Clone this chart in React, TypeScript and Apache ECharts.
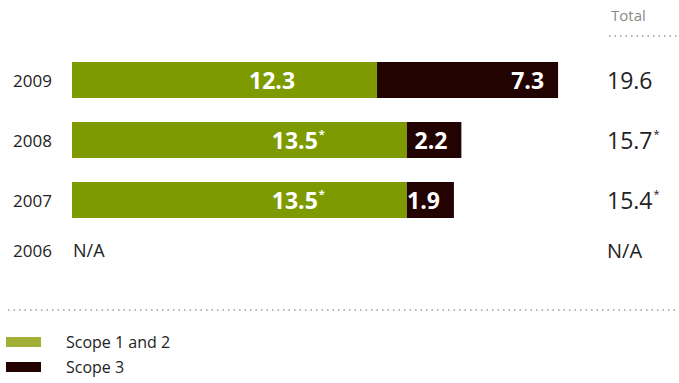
import React, { useEffect, useRef } from "react";
import * as echarts from "echarts";

const years = ["2009", "2008", "2007", "2006"];
const scope12 = [12.3, 13.5, 13.5, null];
const scope12Star = [false, true, true, false];
const scope3 = [7.3, 2.2, 1.9, null];
const totals = ["19.6", "15.7", "15.4", "N/A"];
const totalsStar = [false, true, true, false];
const naLabel = "N/A";

const GREEN = "#7d9b00";
const DARK = "#230202";
const FONT = "'Open Sans', 'Noto Sans', sans-serif";

export default function App() {
  const ref = useRef<HTMLDivElement>(null);
  useEffect(() => {
    const chart = echarts.init(ref.current!, null, { renderer: "svg" });
    const greenData = scope12.map((v, i) =>
      v === null
        ? {
            value: 0,
            label: {
              show: true,
              position: "right",
              distance: 1,
              offset: [0, -10],
              formatter: naLabel,
              color: "#222",
              fontWeight: "normal",
              fontSize: 18,
              fontFamily: FONT,
            },
          }
        : {
            value: v,
            label: {
              formatter: scope12Star[i] ? `{v|${v.toFixed(1)}}{s|*}` : `{v|${v.toFixed(1)}}`,
            },
          }
    );
    const darkData = scope3.map((v) => (v === null ? null : v));
    chart.setOption({
      animation: false,
      textStyle: { fontFamily: FONT },
      grid: { left: 72, top: 50, width: 496, height: 240 },
      xAxis: { type: "value", min: 0, max: 20, show: false },
      yAxis: [
        {
          type: "category",
          data: years,
          inverse: true,
          axisLine: { show: false },
          axisTick: { show: false },
          axisLabel: {
            margin: 20,
            color: "#222",
            fontSize: 17,
            fontFamily: FONT,
            formatter: (val: string, i: number) => (i === 3 ? `{up|${val}}` : val),
            rich: { up: { fontSize: 17, color: "#222", padding: [0, 0, 20, 0], fontFamily: FONT } },
          },
        },
        {
          type: "category",
          data: totals,
          inverse: true,
          position: "right",
          axisLine: { show: false },
          axisTick: { show: false },
          axisLabel: {
            margin: 39,
            align: "left",
            color: "#222",
            fontSize: 23,
            fontFamily: FONT,
            formatter: (val: string, i: number) =>
              i === 3 ? `{up|${val}}` : totalsStar[i] ? `{n|${val}}{s|*}` : `{n|${val}}`,
            rich: {
              n: { fontSize: 23, color: "#222", fontFamily: FONT },
              s: { fontSize: 11, color: "#222", padding: [0, 0, 14, 1], fontFamily: FONT },
              up: { fontSize: 20, color: "#222", padding: [0, 0, 20, 0], fontFamily: FONT },
            },
          },
        },
      ],
      legend: {
        orient: "vertical",
        left: 6,
        top: 332,
        padding: 0,
        itemWidth: 35,
        itemHeight: 10,
        itemGap: 5,
        icon: "rect",
        textStyle: { fontSize: 16, color: "#222", padding: [0, 0, 0, 20], lineHeight: 20, fontFamily: FONT },
        data: [
          { name: "Scope 1 and 2", itemStyle: { color: "#a3b038" } },
          { name: "Scope 3", itemStyle: { color: DARK } },
        ],
      },
      series: [
        {
          name: "Scope 1 and 2",
          type: "bar",
          stack: "t",
          barWidth: 36,
          itemStyle: { color: GREEN },
          label: {
            show: true,
            position: "insideRight",
            distance: 82,
            rich: {
              v: { fontSize: 23, fontWeight: "bold", color: "#fff", fontFamily: FONT },
              s: { fontSize: 11, fontWeight: "bold", color: "#fff", padding: [0, 0, 14, 1], fontFamily: FONT },
            },
          },
          data: greenData,
        },
        {
          name: "Scope 3",
          type: "bar",
          stack: "t",
          barWidth: 36,
          itemStyle: { color: DARK },
          label: {
            show: true,
            position: "insideRight",
            distance: 14,
            fontSize: 23,
            fontWeight: "bold",
            color: "#fff",
            fontFamily: FONT,
            formatter: (p: any) => Number(p.value).toFixed(1),
          },
          data: darkData,
        },
      ],
      graphic: [
        {
          type: "text",
          left: 611,
          top: 7,
          style: { text: "Total", fontSize: 15, fill: "#8a8a8a", fontFamily: FONT },
        },
        {
          type: "line",
          shape: { x1: 609, y1: 36, x2: 677, y2: 36 },
          style: { stroke: "#9a9a9a", lineWidth: 1.5, lineDash: [1.5, 4] },
        },
        {
          type: "line",
          shape: { x1: 8, y1: 310, x2: 677, y2: 310 },
          style: { stroke: "#9a9a9a", lineWidth: 1.5, lineDash: [1.5, 4] },
        },
      ],
    });
    return () => chart.dispose();
  }, []);
  return (
    <div
      ref={ref}
      style={{ position: "absolute", left: 0, top: 0, width: 679, height: 383, background: "#fff" }}
    />
  );
}
